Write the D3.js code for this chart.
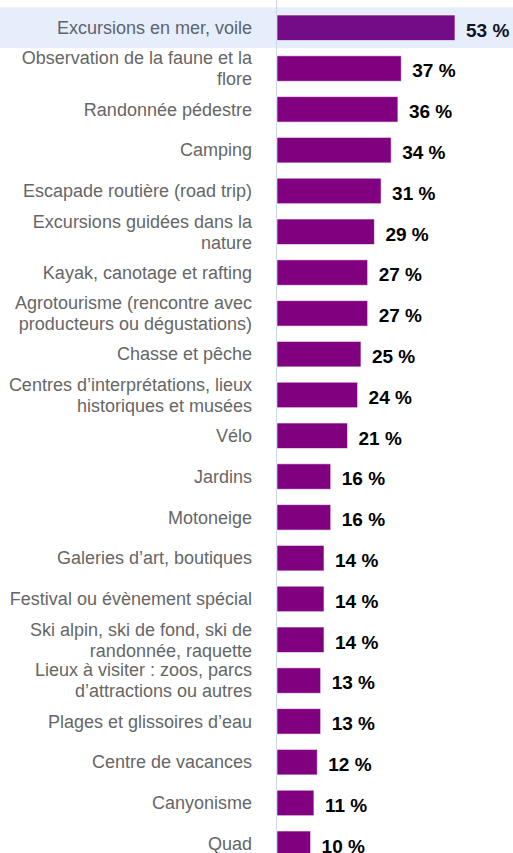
<!DOCTYPE html>
<html>
<head>
<meta charset="utf-8">
<script src="https://cdn.jsdelivr.net/npm/d3@7"></script>
<style>
  html, body { margin: 0; padding: 0; background: #fff; }
  svg { display: block; font-family: "Liberation Sans", Arial, Helvetica, sans-serif; }
</style>
</head>
<body>
<svg id="chart" width="513" height="853"></svg>
<script>
// Activités pratiquées (% des répondants)
const categories = [
  "Excursions en mer, voile",
  "Observation de la faune et la flore",
  "Randonnée pédestre",
  "Camping",
  "Escapade routière (road trip)",
  "Excursions guidées dans la nature",
  "Kayak, canotage et rafting",
  "Agrotourisme (rencontre avec producteurs ou dégustations)",
  "Chasse et pêche",
  "Centres d’interprétations, lieux historiques et musées",
  "Vélo",
  "Jardins",
  "Motoneige",
  "Galeries d’art, boutiques",
  "Festival ou évènement spécial",
  "Ski alpin, ski de fond, ski de randonnée, raquette",
  "Lieux à visiter : zoos, parcs d’attractions ou autres",
  "Plages et glissoires d’eau",
  "Centre de vacances",
  "Canyonisme",
  "Quad"
];
const values = [53, 37, 36, 34, 31, 29, 27, 27, 25, 24, 21, 16, 16, 14, 14, 14, 13, 13, 12, 11, 10];
const highlighted = 0; // row shown in its hover state

const svg = d3.select("#chart");
const W = 513;
const plotLeft = 277;
const rowStep = 40.8;
const plotTop = 7.35;

const y = d3.scaleBand()
  .domain(categories)
  .range([plotTop, plotTop + rowStep * categories.length])
  .paddingInner(0.375)
  .paddingOuter(0.1875);

const x = d3.scaleLinear().domain([0, 53]).range([plotLeft, 455]);

// hover band
const hl = categories[highlighted];
svg.append("rect")
  .attr("x", 0)
  .attr("y", y(hl) - y.step() * y.paddingInner() / 2)
  .attr("width", W)
  .attr("height", y.step())
  .attr("fill", "#e6eefb");

// category axis line
svg.append("line")
  .attr("x1", plotLeft - 0.5).attr("x2", plotLeft - 0.5)
  .attr("y1", 0).attr("y2", 853)
  .attr("stroke", "#ccd6eb").attr("stroke-width", 1);

// bars
svg.append("g").selectAll("rect")
  .data(categories)
  .join("rect")
  .attr("x", x(0))
  .attr("y", d => y(d))
  .attr("width", (d, i) => x(values[i]) - x(0))
  .attr("height", y.bandwidth())
  .attr("fill", (d, i) => i === highlighted ? "#740c87" : "#800080")
  .attr("stroke", "#ffffff")
  .attr("stroke-opacity", 0.6)
  .attr("stroke-width", 1);

// value labels
svg.append("g").selectAll("text")
  .data(categories)
  .join("text")
  .attr("x", (d, i) => x(values[i]) + 11)
  .attr("y", d => y(d) + y.bandwidth() / 2 + 2)
  .attr("dy", "0.36em")
  .attr("font-size", 19)
  .attr("font-weight", "bold")
  .attr("fill", (d, i) => i === highlighted ? "#0e1526" : "#000")
  .text((d, i) => values[i] + " %");

// category labels, wrapped to the label column width
const labelRight = 252;
const maxWidth = 248;
const lineHeight = 21;
const labels = svg.append("g").selectAll("text")
  .data(categories)
  .join("text")
  .attr("text-anchor", "end")
  .attr("font-size", 18)
  .attr("fill", (d, i) => i === highlighted ? "#5d6370" : "#666666");

labels.each(function (d) {
  const t = d3.select(this);
  const words = d.split(" ");
  const lines = [];
  let line = [];
  const probe = t.append("tspan");
  words.forEach(w => {
    const trial = line.concat(w).join(" ");
    probe.text(trial);
    if (probe.node().getComputedTextLength() > maxWidth && line.length) {
      lines.push(line.join(" "));
      line = [w];
    } else {
      line.push(w);
    }
  });
  lines.push(line.join(" "));
  probe.remove();
  const cy = y(d) + y.bandwidth() / 2;
  const first = cy - (lines.length - 1) * lineHeight / 2;
  lines.forEach((l, k) => {
    t.append("tspan")
      .attr("x", labelRight)
      .attr("y", first + k * lineHeight)
      .attr("dy", "0.35em")
      .text(l);
  });
});
</script>
</body>
</html>
